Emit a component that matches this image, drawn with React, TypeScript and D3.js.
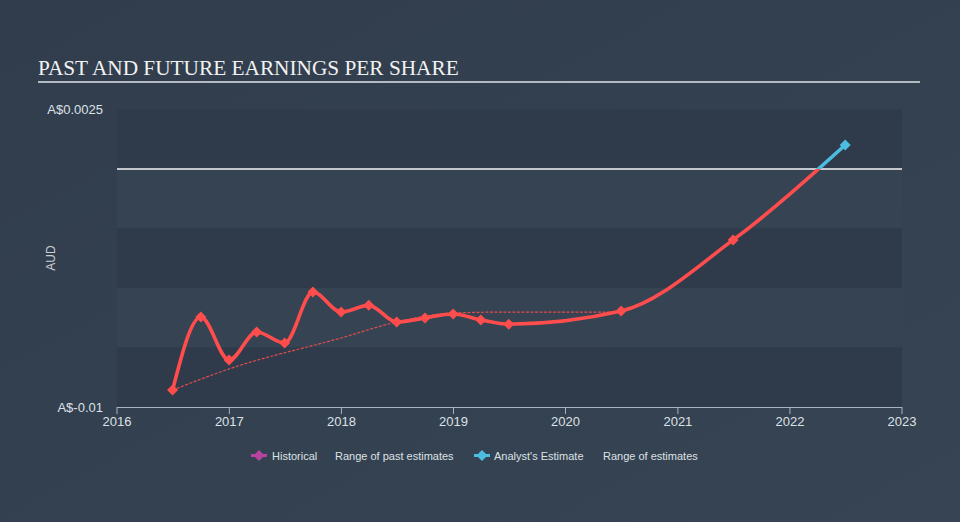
import React from "react";
import * as d3 from "d3";

const W = 960;
const H = 522;

// EPS line (historical + analyst forecast), AUD
const epsDates = [
  "2016-06-30", "2016-09-30", "2016-12-31", "2017-03-31", "2017-06-30", "2017-09-30",
  "2017-12-31", "2018-03-31", "2018-06-30", "2018-09-30", "2018-12-31", "2019-03-31",
  "2019-06-30", "2020-06-30", "2021-06-30", "2022-06-30",
];
const epsValues = [
  -0.00929, -0.00622, -0.00803, -0.00685, -0.00731, -0.00517,
  -0.00601, -0.00573, -0.00643, -0.00626, -0.00609, -0.00634,
  -0.00652, -0.00597, -0.00298, 0.00101,
];

// thin dashed "past estimates" line
const pastEstDates = ["2016-06-30", "2016-12-31", "2017-12-31", "2018-06-30", "2018-12-31", "2019-06-30", "2020-06-30"];
const pastEstValues = [-0.00929, -0.0084, -0.0071, -0.00643, -0.00605, -0.00601, -0.00601];

const yTickValues = [0.0025, -0.01];
const yTickLabels = ["A$0.0025", "A$-0.01"];
const bandEdges = [0.0025, 0, -0.0025, -0.005, -0.0075, -0.01];

const legendItems = [
  { label: "Historical", color: "#b8439f", marker: true },
  { label: "Range of past estimates", color: "", marker: false },
  { label: "Analyst's Estimate", color: "#4cbde0", marker: true },
  { label: "Range of estimates", color: "", marker: false },
];

const RED = "#ff4d4d";
const CYAN = "#4cbde0";
const FONT = "'Liberation Sans', Arial, sans-serif";

export default function App() {
  const parse = d3.timeParse("%Y-%m-%d");
  const x = d3
    .scaleTime()
    .domain([new Date(2016, 0, 1), new Date(2023, 0, 1)])
    .range([117, 902]);
  const y = d3.scaleLinear().domain([-0.01, 0.0025]).range([407, 109.5]);

  const eps = epsDates.map((d, i) => ({ date: parse(d) as Date, v: epsValues[i] }));
  const past = pastEstDates.map((d, i) => ({ date: parse(d) as Date, v: pastEstValues[i] }));

  const line = d3
    .line<{ date: Date; v: number }>()
    .x((d) => x(d.date))
    .y((d) => y(d.v))
    .curve(d3.curveMonotoneX);

  const zeroY = y(0);
  const [x0, x1] = x.range();
  const years = d3.range(2016, 2024).map((yy) => new Date(yy, 0, 1));

  const diamond = (cx: number, cy: number, r: number) =>
    `M${cx},${cy - r}L${cx + r},${cy}L${cx},${cy + r}L${cx - r},${cy}Z`;

  // legend layout: marker start, text start
  const legendMarkerX = [251, 0, 474, 0];
  const legendTextX = [272, 335, 494, 603];

  return (
    <svg width={W} height={H} style={{ display: "block", position: "absolute", left: 0, top: 0 }}>
      <defs>
        <linearGradient id="bg" x1="0" y1="0" x2="1" y2="1">
          <stop offset="0%" stopColor="#313d4c" />
          <stop offset="100%" stopColor="#364453" />
        </linearGradient>
        <clipPath id="below">
          <rect x={0} y={zeroY} width={W} height={H} />
        </clipPath>
        <clipPath id="above">
          <rect x={0} y={0} width={W} height={zeroY} />
        </clipPath>
      </defs>
      <rect width={W} height={H} fill="url(#bg)" />

      {/* title */}
      <text x={38} y={75} fill="#f2f2f2" fontFamily="'Liberation Serif', 'Times New Roman', serif" fontSize={21.3}>
        PAST AND FUTURE EARNINGS PER SHARE
      </text>
      <rect x={38} y={81} width={882} height={2} fill="#b4bac2" />

      {/* bands */}
      {bandEdges.slice(0, -1).map((top, i) => (
        <rect
          key={i}
          x={x0}
          y={y(top)}
          width={x1 - x0}
          height={y(bandEdges[i + 1]) - y(top)}
          fill={i % 2 === 0 ? "#2f3b4a" : "#354352"}
        />
      ))}

      {/* zero line */}
      <line x1={x0} x2={x1} y1={zeroY} y2={zeroY} stroke="#f4f6f8" strokeWidth={1.3} />

      {/* y labels */}
      {yTickValues.map((v, i) => (
        <text
          key={i}
          x={103}
          y={y(v)}
          dy="0.35em"
          textAnchor="end"
          fill="#dde1e6"
          fontFamily={FONT}
          fontSize={13}
        >
          {yTickLabels[i]}
        </text>
      ))}
      <text
        transform={`translate(55,258) rotate(-90)`}
        textAnchor="middle"
        fill="#c9ced5"
        fontFamily={FONT}
        fontSize={12}
      >
        AUD
      </text>

      {/* x axis */}
      <line x1={x0} x2={x1} y1={407.5} y2={407.5} stroke="#aab4c0" strokeWidth={1.2} />
      {years.map((d, i) => (
        <g key={i}>
          <line x1={x(d)} x2={x(d)} y1={407} y2={414} stroke="#aab4c0" strokeWidth={1} />
          <text
            x={x(d)}
            y={426}
            textAnchor="middle"
            fill="#dde1e6"
            fontFamily={FONT}
            fontSize={13}
          >
            {d3.timeFormat("%Y")(d)}
          </text>
        </g>
      ))}

      {/* past estimates dashed line */}
      <path d={line(past) || ""} fill="none" stroke={RED} strokeWidth={1.2} strokeDasharray="3,1.5" opacity={0.85} />

      {/* main EPS line, red below zero, cyan above */}
      <g clipPath="url(#below)">
        <path d={line(eps) || ""} fill="none" stroke={RED} strokeWidth={3.6} strokeLinejoin="round" strokeLinecap="round" />
        {eps.map((d, i) => (
          <path key={i} d={diamond(x(d.date), y(d.v), 5.5)} fill={RED} />
        ))}
      </g>
      <g clipPath="url(#above)">
        <path d={line(eps) || ""} fill="none" stroke={CYAN} strokeWidth={3.6} strokeLinejoin="round" strokeLinecap="round" />
        {eps.map((d, i) => (
          <path key={i} d={diamond(x(d.date), y(d.v), 5.5)} fill={CYAN} />
        ))}
      </g>

      {/* legend */}
      {legendItems.map((it, i) => (
        <g key={i}>
          {it.marker && (
            <>
              <line x1={legendMarkerX[i]} x2={legendMarkerX[i] + 16} y1={455.5} y2={455.5} stroke={it.color} strokeWidth={3} />
              <path d={diamond(legendMarkerX[i] + 8, 455.5, 5.5)} fill={it.color} />
            </>
          )}
          <text x={legendTextX[i]} y={459.5} fill="#dde1e6" fontFamily={FONT} fontSize={11}>
            {it.label}
          </text>
        </g>
      ))}
    </svg>
  );
}
